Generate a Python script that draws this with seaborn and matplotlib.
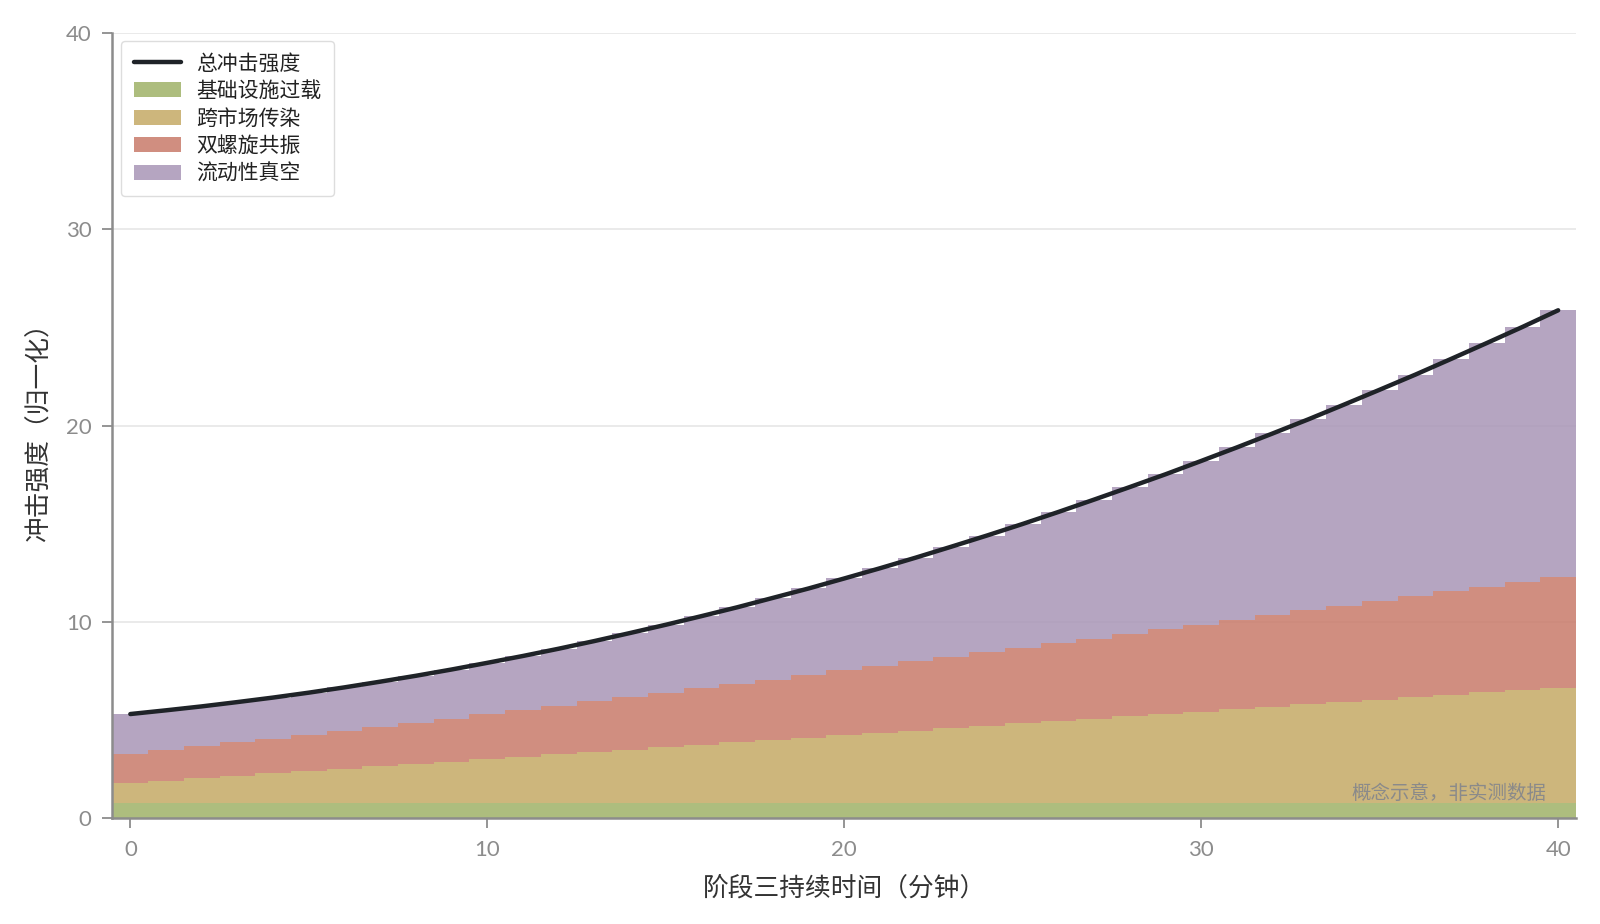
import numpy as np
import pandas as pd
import matplotlib
matplotlib.use("Agg")
import matplotlib.pyplot as plt
import seaborn as sns
from matplotlib.lines import Line2D
from matplotlib.patches import Patch

# ---------------- data ----------------
minutes = list(range(0, 41))

infrastructure = [0.78] * 41  # 基础设施过载

contagion = [1.00, 1.12, 1.24, 1.36, 1.49, 1.61, 1.73, 1.85, 1.97, 2.09,
             2.21, 2.34, 2.46, 2.58, 2.70, 2.82, 2.94, 3.07, 3.19, 3.31,
             3.43, 3.55, 3.67, 3.79, 3.92, 4.04, 4.16, 4.28, 4.40, 4.52,
             4.64, 4.76, 4.89, 5.01, 5.13, 5.25, 5.37, 5.49, 5.62, 5.74,
             5.86]  # 跨市场传染

resonance = [1.50, 1.57, 1.64, 1.71, 1.78, 1.85, 1.93, 2.02, 2.11, 2.20,
             2.29, 2.39, 2.48, 2.58, 2.68, 2.78, 2.89, 2.99, 3.09, 3.20,
             3.31, 3.42, 3.53, 3.64, 3.74, 3.85, 3.96, 4.07, 4.19, 4.31,
             4.43, 4.56, 4.68, 4.80, 4.92, 5.04, 5.16, 5.28, 5.40, 5.52,
             5.64]  # 双螺旋共振

vacuum = [2.02, 2.02, 2.03, 2.06, 2.09, 2.15, 2.22, 2.30, 2.39, 2.50,
          2.63, 2.75, 2.91, 3.08, 3.27, 3.47, 3.68, 3.90, 4.16, 4.41,
          4.69, 4.98, 5.29, 5.62, 5.96, 6.32, 6.70, 7.10, 7.50, 7.91,
          8.35, 8.79, 9.25, 9.73, 10.24, 10.76, 11.29, 11.85, 12.41, 12.99,
          13.60]  # 流动性真空

layer_names = ["基础设施过载", "跨市场传染", "双螺旋共振", "流动性真空"]
layer_values = [infrastructure, contagion, resonance, vacuum]
layer_colors = ["#9fb267", "#c5aa65", "#c87a6a", "#a896b7"]
total_label = "总冲击强度"
x_label = "阶段三持续时间（分钟）"
y_label = "冲击强度（归一化）"
note_text = "概念示意，非实测数据"

# ---------------- style ----------------
sns.set_theme(style="white")
plt.rcParams['font.family'] = ['Lato', 'Noto Sans CJK SC', 'DejaVu Sans']
plt.rcParams['axes.unicode_minus'] = False

rows = []
for name, vals in zip(layer_names, layer_values):
    for t, v in zip(minutes, vals):
        rows.append({"t": t, "v": v, "layer": name})
df = pd.DataFrame(rows)

total = np.sum(np.array(layer_values), axis=0)

fig = plt.figure(figsize=(16, 9.24), dpi=100)
ax = fig.add_axes([0.0703, 0.1147, 0.9147, 0.8493])

ax.yaxis.grid(True, color="#e6e6e6", linewidth=1.2, zorder=0)
ax.set_axisbelow(True)

palette = dict(zip(layer_names, layer_colors))
sns.histplot(data=df, x="t", weights="v", hue="layer",
             hue_order=layer_names[::-1], multiple="stack", discrete=True,
             element="step", fill=True, linewidth=0, alpha=0.85,
             palette=palette, legend=False, ax=ax)

sns.lineplot(x=minutes, y=total, color="#1f2328", linewidth=3.2,
             estimator=None, ax=ax, zorder=5)

ax.set_xlim(-0.5, 40.5)
ax.set_ylim(0, 40)
ax.set_xticks([0, 10, 20, 30, 40])
ax.set_yticks([0, 10, 20, 30, 40])

for side in ["top", "right"]:
    ax.spines[side].set_visible(False)
for side in ["left", "bottom"]:
    ax.spines[side].set_color("#8c8c8c")
    ax.spines[side].set_linewidth(1.8)

ax.tick_params(axis="both", which="major", direction="out", length=7,
               width=1.3, color="#8c8c8c", labelcolor="#8c8c8c",
               labelsize=16, left=True, bottom=True)
ax.tick_params(axis="x", pad=9)
ax.tick_params(axis="y", pad=8)

ax.set_xlabel(x_label, fontsize=18.5, color="#333333", labelpad=11)
ax.set_ylabel(y_label, fontsize=18.5, color="#333333", labelpad=10)

ax.text(0.98, 0.033, note_text, transform=ax.transAxes, ha="right",
        va="center", fontsize=14, color="#8a8a8a")

handles = [Line2D([0], [0], color="#1f2328", linewidth=3.2)]
labels = [total_label]
for name, col in zip(layer_names, layer_colors):
    handles.append(Patch(facecolor=col, alpha=0.85, edgecolor="none"))
    labels.append(name)
leg = ax.legend(handles, labels, loc="upper left", bbox_to_anchor=(0.006, 0.99),
                borderaxespad=0, fontsize=15, frameon=True, fancybox=True,
                framealpha=1, edgecolor="#dddddd", handlelength=2.25,
                handleheight=0.75, labelspacing=0.36, borderpad=0.6,
                handletextpad=0.75)
leg.get_frame().set_linewidth(1.0)
for txt in leg.get_texts():
    txt.set_color("#222222")

fig.savefig("out.png", dpi=100)
